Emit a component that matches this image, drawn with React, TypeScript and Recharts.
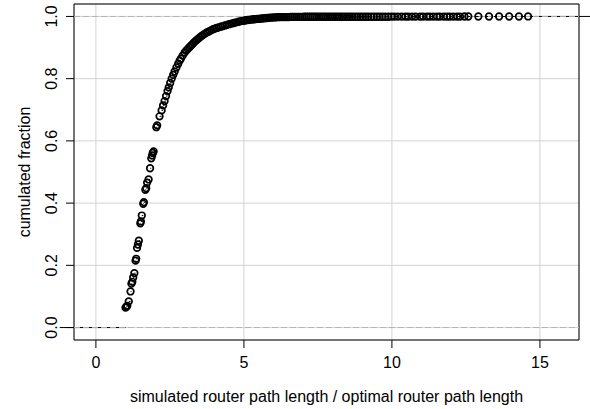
import {
  ComposedChart, XAxis, YAxis, CartesianGrid, Scatter, Line,
  ReferenceLine, ReferenceArea,
} from "recharts";

// ecdf of path length ratio
const ratioX = [
  1.0, 1.03, 1.06, 1.11, 1.17, 1.2, 1.23, 1.26, 1.3, 1.34, 1.36, 1.39, 1.42, 1.45,
  1.5, 1.52, 1.55, 1.6, 1.62, 1.67, 1.7, 1.73, 1.78, 1.83, 1.87, 1.9, 1.92, 1.95,
  2.04, 2.07, 2.15, 2.22, 2.27, 2.32, 2.37, 2.42, 2.46, 2.51, 2.56, 2.61, 2.66,
  2.72, 2.78, 2.83, 2.87, 2.93, 3.0,
  3.05, 3.1, 3.15, 3.2, 3.25, 3.3, 3.35, 3.4, 3.45, 3.5, 3.55, 3.6, 3.66, 3.72,
  3.78, 3.84, 3.9, 3.96, 4.02, 4.08, 4.15, 4.22, 4.29, 4.36, 4.43, 4.5, 4.58,
  4.66, 4.74, 4.82, 4.9,
  4.98, 5.03, 5.08, 5.13, 5.18, 5.24, 5.29, 5.34, 5.4, 5.45,
  5.51, 5.56, 5.62, 5.67, 5.73, 5.78, 5.84, 5.9, 5.96, 6.02,
  6.08, 6.14, 6.2, 6.26, 6.32, 6.38, 6.45, 6.51, 6.58, 6.64,
  6.71, 6.77, 6.84, 6.9, 6.97, 7.04, 7.11, 7.18, 7.25, 7.32,
  7.39, 7.46, 7.54, 7.61, 7.69, 7.76, 7.84, 7.92, 8.0, 8.08,
  8.16, 8.24, 8.32, 8.41, 8.49, 8.58, 8.66, 8.75, 8.84, 8.93,
  9.02, 9.11, 9.2, 9.3, 9.39, 9.49, 9.58, 9.68, 9.78, 9.88,
  9.98, 10.08, 10.2, 10.33, 10.45, 10.55, 10.68, 10.8, 10.95, 11.05,
  11.18, 11.28, 11.4, 11.52, 11.62, 11.75, 11.86, 11.96, 12.08, 12.2,
  12.3, 12.45, 12.58, 12.92, 13.28, 13.62, 13.96, 14.29, 14.6,
];
const cumFrac = [
  0.064, 0.067, 0.07, 0.084, 0.116, 0.141, 0.147, 0.161, 0.175, 0.215, 0.221, 0.256, 0.267, 0.279,
  0.335, 0.341, 0.36, 0.398, 0.403, 0.443, 0.448, 0.466, 0.476, 0.512, 0.544, 0.553, 0.561, 0.566,
  0.644, 0.65, 0.679, 0.698, 0.714, 0.728, 0.744, 0.76, 0.772, 0.786, 0.8, 0.812, 0.823,
  0.836, 0.848, 0.858, 0.864, 0.874, 0.884,
  0.89, 0.895, 0.9, 0.905, 0.91, 0.915, 0.92, 0.924, 0.928, 0.932, 0.936, 0.939, 0.943, 0.947,
  0.95, 0.953, 0.956, 0.959, 0.961, 0.963, 0.965, 0.967, 0.969, 0.971, 0.973, 0.975, 0.977,
  0.979, 0.981, 0.983, 0.985,
  0.986, 0.987, 0.988, 0.9885, 0.989, 0.99, 0.9905, 0.991, 0.9915, 0.992,
  0.9925, 0.993, 0.9935, 0.994, 0.9945, 0.995, 0.9955, 0.996, 0.9965, 0.997,
  0.9972, 0.9975, 0.9977, 0.998, 0.998, 0.998, 0.998, 0.998, 0.9985, 0.9985,
  0.9985, 0.9985, 0.9985, 0.9985, 0.9985, 0.999, 0.999, 0.999, 0.999, 0.999,
  0.999, 0.999, 0.999, 0.999, 0.999, 0.999, 0.999, 0.999, 0.999, 0.999,
  0.999, 0.999, 0.999, 0.999, 0.999, 0.999, 0.999, 0.999, 0.999, 0.999,
  0.999, 0.999, 0.999, 0.999, 0.999, 0.999, 0.999, 0.999, 0.999, 0.999,
  0.9995, 0.9995, 0.9995, 0.9995, 0.9995, 0.9995, 0.9995, 0.9995, 0.9995, 0.9995,
  0.9995, 0.9995, 0.9995, 0.9995, 0.9995, 0.9995, 0.9995, 0.9995, 0.9995, 0.9995,
  0.9995, 0.9998, 0.9998, 0.9998, 0.9998, 0.9998, 0.9999, 0.9999, 1.0,
];

const xTicks = [0, 5, 10, 15];
const yTicks = [0, 0.2, 0.4, 0.6, 0.8, 1.0];

const FONT = "'Liberation Sans', Arial, Helvetica, sans-serif";

const points = ratioX.map((x, i) => ({ x, y: cumFrac[i] }));

// horizontal pieces of the step function only (R draws no verticals)
const steps: { x: number; y: number | null }[] = [];
for (let i = 0; i < ratioX.length - 1; i++) {
  steps.push({ x: ratioX[i], y: cumFrac[i] });
  steps.push({ x: ratioX[i + 1], y: cumFrac[i] });
  steps.push({ x: ratioX[i + 1], y: null });
}

const xFirst = ratioX[0];
const xLast = ratioX[ratioX.length - 1];

function YTick({ x, y, payload }: any) {
  const tx = x - 14;
  return (
    <text
      x={tx}
      y={y}
      transform={`rotate(-90, ${tx}, ${y})`}
      textAnchor="middle"
      dominantBaseline="central"
      fontSize={16}
      fontFamily={FONT}
      fill="#000"
    >
      {Number(payload.value).toFixed(1)}
    </text>
  );
}

function Ring(p: any) {
  return <circle cx={p.cx} cy={p.cy} r={3.3} fill="none" stroke="#000" strokeWidth={1.7} />;
}

export default function App() {
  return (
    <div style={{ position: "absolute", left: 0, top: 0, fontFamily: FONT }}>
      <ComposedChart width={590} height={409} margin={{ top: 4, right: 11, bottom: 0, left: 0 }}>
        <CartesianGrid stroke="#d3d3d3" strokeWidth={1} />
        <XAxis
          dataKey="x"
          type="number"
          domain={[-0.74, 16.32]}
          allowDataOverflow
          ticks={xTicks}
          height={69}
          tickSize={8}
          tickMargin={9}
          axisLine={false}
          tickLine={{ stroke: "#000" }}
          tick={{ fill: "#000", fontSize: 16, fontFamily: FONT }}
          label={{
            value: "simulated router path length / optimal router path length",
            position: "insideBottom",
            offset: 7,
            fill: "#000",
            fontSize: 16,
            fontFamily: FONT,
          }}
        />
        <YAxis
          dataKey="y"
          type="number"
          domain={[-0.04, 1.04]}
          allowDataOverflow
          ticks={yTicks}
          width={74}
          tickSize={8}
          tickMargin={0}
          axisLine={false}
          tickLine={{ stroke: "#000" }}
          tick={<YTick />}
          label={{
            value: "cumulated fraction",
            angle: -90,
            position: "insideLeft",
            offset: 24,
            fill: "#000",
            fontSize: 16,
            fontFamily: FONT,
            style: { textAnchor: "middle" },
          }}
        />
        <ReferenceLine
          segment={[{ x: -1.22, y: 0 }, { x: xFirst, y: 0 }]}
          stroke="#000"
          ifOverflow="visible"
        />
        <ReferenceLine
          segment={[{ x: xLast, y: 1 }, { x: 16.7, y: 1 }]}
          stroke="#000"
          ifOverflow="visible"
        />
        <Line
          data={steps}
          dataKey="y"
          stroke="#000"
          strokeWidth={1}
          dot={false}
          connectNulls={false}
          isAnimationActive={false}
        />
        <ReferenceLine y={0} stroke="#b3b3b3" strokeDasharray="6 3" />
        <ReferenceLine y={1} stroke="#b3b3b3" strokeDasharray="6 3" />
        <Scatter data={points} dataKey="y" shape={Ring} isAnimationActive={false} />
        <ReferenceArea x1={-0.74} x2={16.32} y1={-0.04} y2={1.04} fill="none" stroke="#000" strokeWidth={1} />
      </ComposedChart>
    </div>
  );
}
